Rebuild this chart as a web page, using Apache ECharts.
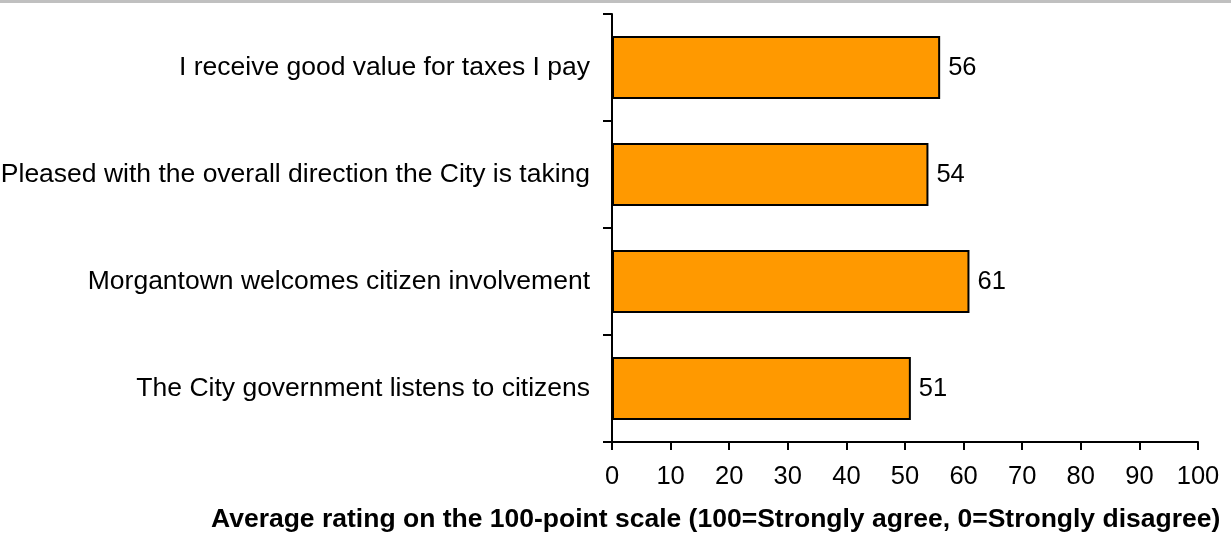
<!DOCTYPE html>
<html>
<head>
<meta charset="utf-8">
<script src="https://cdn.jsdelivr.net/npm/echarts@6/dist/echarts.min.js"></script>
<style>
  html, body { margin: 0; padding: 0; background: #fff; }
  #chart { width: 1231px; height: 538px; }
</style>
</head>
<body>
<div id="chart"></div>
<script>
// Statements, listed top to bottom
const categories = [
  'I receive good value for taxes I pay',
  'Pleased with the overall direction the City is taking',
  'Morgantown welcomes citizen involvement',
  'The City government listens to citizens'
];
// Average rating for each statement
const ratings = [56, 54, 61, 51];
// Rating scale ticks
const scaleMin = 0;
const scaleMax = 100;
const scaleStep = 10;
const axisTitle = 'Average rating on the 100-point scale (100=Strongly agree, 0=Strongly disagree)';

const FONT = 'Liberation Sans, Arial, Helvetica, sans-serif';
const chart = echarts.init(document.getElementById('chart'), null, { renderer: 'canvas' });

chart.setOption({
  animation: false,
  backgroundColor: '#ffffff',
  graphic: [
    { type: 'rect', left: 0, top: 0, shape: { width: 1231, height: 3 }, style: { fill: '#c0c0c0' } },
    {
      type: 'text', left: 211, top: 506,
      style: { text: axisTitle, font: 'bold 26.5px ' + FONT, fill: '#000' }
    }
  ],
  grid: {
    left: 612, right: 33, top: 14, bottom: 96,
    containLabel: false, outerBoundsMode: 'none'
  },
  xAxis: {
    type: 'value',
    min: scaleMin, max: scaleMax, interval: scaleStep,
    axisLine: { show: true, lineStyle: { color: '#000', width: 2 } },
    axisTick: { show: true, length: 8, lineStyle: { color: '#000', width: 2 } },
    axisLabel: { color: '#000', fontSize: 25.5, fontFamily: FONT, margin: 22 },
    splitLine: { show: false }
  },
  yAxis: {
    type: 'category',
    data: categories,
    inverse: true,
    axisLine: { show: true, lineStyle: { color: '#000', width: 2 } },
    axisTick: { show: true, length: 9, inside: false, lineStyle: { color: '#000', width: 2 } },
    axisLabel: { color: '#000', fontSize: 26.5, fontFamily: FONT, margin: 22 }
  },
  series: [{
    type: 'bar',
    data: ratings,
    barCategoryGap: '41%',
    itemStyle: { color: '#ff9900', borderColor: '#000', borderWidth: 2 },
    label: {
      show: true, position: 'right', distance: 8,
      color: '#000', fontSize: 25.5, fontFamily: FONT
    }
  }]
});
</script>
</body>
</html>
